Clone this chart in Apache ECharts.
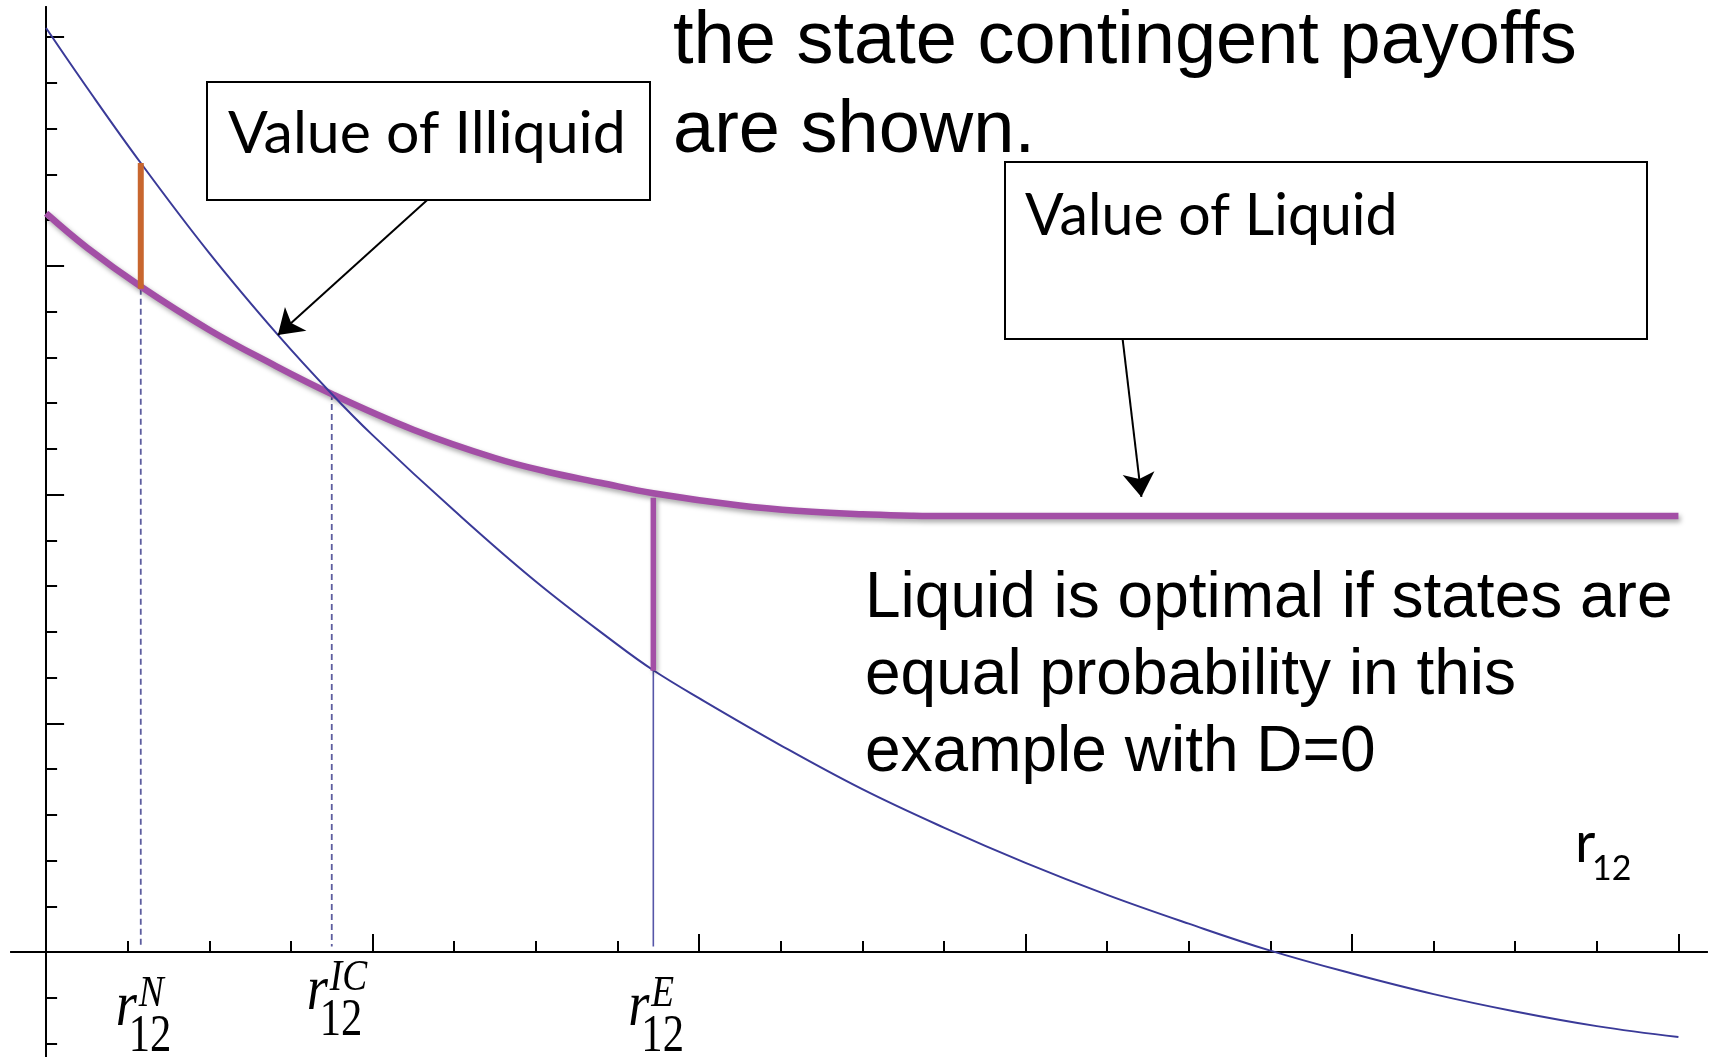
<!DOCTYPE html>
<html>
<head>
<meta charset="utf-8">
<title>Value of Liquid vs Illiquid</title>
<script src="https://cdn.jsdelivr.net/npm/echarts@6/dist/echarts.min.js"></script>
<style>
html, body { margin: 0; padding: 0; background: #fff; }
#chart { width: 1716px; height: 1057px; }
</style>
</head>
<body>
<div id="chart"></div>
<script>
// values: x in r12 tick units, y in payoff tick units
const illiquidX = [0, 0.5, 1.16, 2, 2.84, 3.5, 4, 5, 6, 7, 7.44, 8, 9, 10, 11, 12, 13, 14, 15, 16, 17, 18, 19, 20];
const illiquidY = [20.2, 18.9, 17.25, 15.28, 13.49, 12.2, 11.3, 9.65, 8.1, 6.72, 6.16, 5.55, 4.52, 3.56, 2.72, 1.95, 1.25, 0.62, 0.03, -0.47, -0.92, -1.3, -1.62, -1.86];
const liquidX = [0, 0.5, 1.16, 2, 2.72, 3.5, 4.5, 5.5, 6.14, 6.79, 7.44, 8.5, 9.24, 10, 10.6, 11, 12, 14, 16, 18, 20];
const liquidY = [16.15, 15.4, 14.55, 13.6, 12.9, 12.2, 11.42, 10.8, 10.5, 10.26, 10.03, 9.76, 9.64, 9.57, 9.54, 9.53, 9.53, 9.53, 9.53, 9.53, 9.53];

// marked rates on the r12 axis
const rN = 1.16;
const rIC = 3.5;
const rE = 7.44;
const gapN = [17.25, 14.5];   // illiquid -> liquid at rN
const gapE = [9.93, 6.15];    // liquid -> illiquid at rE
const dropN = [14.5, 0.12];
const dropIC = [12.2, 0.12];
const dropE = [6.15, 0.12];

// annotation arrows (from box to curve)
const illiquidArrow = [[4.67, 16.44], [2.84, 13.49]];
const liquidArrow = [[13.19, 13.4], [13.42, 9.95]];

// ticks
const xMajorTicks = [4, 8, 12, 16, 20];
const xMinorTicks = [1, 2, 3, 5, 6, 7, 9, 10, 11, 13, 14, 15, 17, 18, 19];
const yMajorTicks = [5, 10, 15, 20];
const yMinorTicks = [-2, -1, 1, 2, 3, 4, 6, 7, 8, 9, 11, 12, 13, 14, 16, 17, 18, 19];

const pairs = (xs, ys) => xs.map((x, i) => [x, ys[i]]);
const vseg = (x, ys) => ys.map(y => [x, y]);

function xAxisOf(ticks, len) {
  return {
    type: 'value', min: -0.43, max: 20.35, position: 'bottom',
    axisLine: { onZero: true, lineStyle: { color: '#000', width: 2 } },
    axisTick: { show: true, inside: true, length: len, customValues: ticks, lineStyle: { color: '#000', width: 2 } },
    axisLabel: { show: false },
    splitLine: { show: false }
  };
}
function yAxisOf(ticks, len) {
  return {
    type: 'value', min: -2.295, max: 20.66, position: 'left',
    axisLine: { onZero: true, lineStyle: { color: '#000', width: 2 } },
    axisTick: { show: true, inside: true, length: len, customValues: ticks, lineStyle: { color: '#000', width: 2 } },
    axisLabel: { show: false },
    splitLine: { show: false }
  };
}

function segment(data, color, width, extra) {
  return Object.assign({
    type: 'line', data: data, showSymbol: false, silent: true,
    lineStyle: { color: color, width: width }
  }, extra || {});
}

var myChart = echarts.init(document.getElementById('chart'), null, { renderer: 'canvas' });

myChart.setOption({
  animation: false,
  grid: { left: 11, right: 9, top: 7, bottom: 0 },
  xAxis: [xAxisOf(xMajorTicks, 18), xAxisOf(xMinorTicks, 11)],
  yAxis: [yAxisOf(yMajorTicks, 18), yAxisOf(yMinorTicks, 11)],
  series: [
    segment(vseg(rN, dropN), '#5c5c9e', 1.8, { lineStyle: { color: '#5c5c9e', width: 1.8, type: [6, 4] }, z: 2 }),
    segment(vseg(rIC, dropIC), '#5c5c9e', 1.8, { lineStyle: { color: '#5c5c9e', width: 1.8, type: [6, 4] }, z: 2 }),
    segment(vseg(rE, dropE), '#5656a8', 1.6, { z: 2 }),
    {
      name: 'Value of Liquid', type: 'line', data: pairs(liquidX, liquidY),
      smooth: 0.4, showSymbol: false, silent: true, z: 3,
      lineStyle: { color: '#a34fa6', width: 6.5, shadowColor: 'rgba(0,0,0,0.35)', shadowBlur: 5, shadowOffsetX: 2, shadowOffsetY: 3 }
    },
    {
      name: 'Value of Illiquid', type: 'line', data: pairs(illiquidX, illiquidY),
      smooth: 0.4, showSymbol: false, silent: true, z: 4,
      lineStyle: { color: '#3a3a98', width: 2 },
      markLine: {
        silent: true, animation: false,
        symbol: ['none', 'arrow'], symbolSize: 24,
        label: { show: false },
        lineStyle: { color: '#000', width: 2, type: 'solid' },
        data: [
          [{ coord: illiquidArrow[0] }, { coord: illiquidArrow[1] }],
          [{ coord: liquidArrow[0] }, { coord: liquidArrow[1] }]
        ]
      }
    },
    segment(vseg(rN, gapN), '#c8662e', 6, { z: 5 }),
    segment(vseg(rE, gapE), '#a34fa6', 5.5, {
      z: 5,
      lineStyle: { color: '#a34fa6', width: 5.5, shadowColor: 'rgba(0,0,0,0.3)', shadowBlur: 4, shadowOffsetX: 2, shadowOffsetY: 2 }
    })
  ]
});

// text placed by baseline; k = offset of the middle line above the baseline, in em
function text(str, x, baseline, size, family, k, opts) {
  const o = opts || {};
  return {
    type: 'text', x: x, y: baseline - k * size, scaleX: o.scaleX || 1, z: 100,
    style: {
      text: str, x: 0, y: 0, fill: '#000',
      font: (o.italic ? 'italic ' : '') + size + 'px ' + family,
      textAlign: 'left', textVerticalAlign: 'middle', align: 'left', verticalAlign: 'middle'
    }
  };
}
const SANS = '"Liberation Sans", Arial, sans-serif';
const SERIF = '"Liberation Serif", "Times New Roman", serif';
const CAL = 'Lato, "Open Sans", sans-serif';

function mathLabel(xv, sup, dy) {
  const p = myChart.convertToPixel({ gridIndex: 0 }, [xv, 0]);
  return [
    text('r', p[0] - 25, p[1] + 75 + dy, 64, SERIF, 0.3, { italic: true, scaleX: 0.85 }),
    text('12', p[0] - 12, p[1] + 101 + dy, 52, SERIF, 0.3, { scaleX: 0.82 }),
    text(sup, p[0] - 2, p[1] + 56 + dy, 44, SERIF, 0.3, { italic: true, scaleX: 0.85 })
  ];
}

const graphics = [
  { type: 'rect', z: 90, shape: { x: 207, y: 82, width: 443, height: 118 }, style: { fill: '#fff', stroke: '#000', lineWidth: 2 } },
  { type: 'rect', z: 90, shape: { x: 1005, y: 162, width: 642, height: 177 }, style: { fill: '#fff', stroke: '#000', lineWidth: 2 } },
  text('Value of Illiquid', 228, 157, 59, CAL, 0.387),
  text('Value of Liquid', 1025, 239, 59, CAL, 0.387, { scaleX: 0.97 }),
  text('the state contingent payoffs', 673, 68, 74, SANS, 0.347),
  text('are shown.', 673, 157, 74, SANS, 0.347),
  text('Liquid is optimal if states are', 865, 622, 64, SANS, 0.347),
  text('equal probability in this', 865, 699, 64, SANS, 0.347),
  text('example with D=0', 865, 776, 64, SANS, 0.347),
  text('r', 1575, 866, 56, CAL, 0.387),
  text('12', 1592, 882, 34, CAL, 0.387)
].concat(mathLabel(rN, 'N', 0), mathLabel(rIC, 'IC', -16), mathLabel(rE, 'E', 0));

myChart.setOption({ graphic: graphics });
</script>
</body>
</html>
